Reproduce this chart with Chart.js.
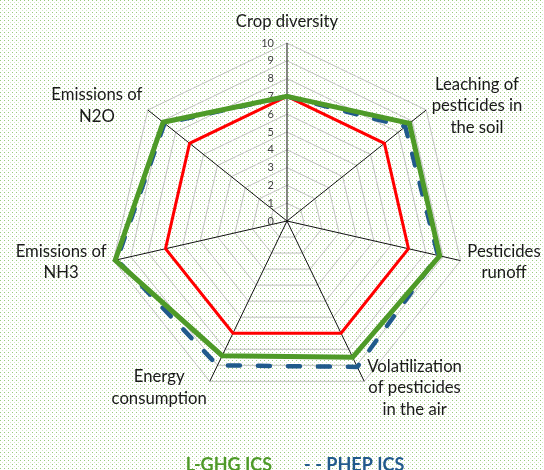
<!DOCTYPE html>
<html>
<head>
<meta charset="utf-8">
<title>ICS radar</title>
<script src="https://cdn.jsdelivr.net/npm/chart.js@4.4.0/dist/chart.umd.min.js"></script>
<style>
  html, body { margin: 0; padding: 0; overflow: hidden; }
  body {
    width: 544px;
    height: 470px;
    background-color: #ffffff;
    background-image: url("data:image/svg+xml,%3Csvg xmlns='http://www.w3.org/2000/svg' width='4' height='4'%3E%3Crect x='0' y='0' width='1' height='1' fill='%2399c97d'/%3E%3Crect x='2' y='2' width='1' height='1' fill='%23d3e9c4'/%3E%3C/svg%3E");
  }
  #wrap { width: 544px; height: 484px; position: relative; }
</style>
</head>
<body>
<div id="wrap"><canvas id="radarChart"></canvas></div>
<script>
// axes of the web, clockwise from the top
const axisLabels = [
    'Crop diversity',
    ['Leaching of', 'pesticides in', 'the soil'],
    ['Pesticides', 'runoff'],
    ['Volatilization', 'of pesticides', 'in the air'],
    ['Energy', 'consumption'],
    ['Emissions of', 'NH3'],
    ['Emissions of', 'N2O']
];

// scores per system (0-10)
const lghgValues = [7, 8.8, 8.8, 8.5, 8.4, 9.9, 8.9];
const phepValues = [7, 8.5, 8.7, 9.1, 9.0, 9.8, 8.8];
const baselineValues = [7, 7, 7, 7, 7, 7, 7];

const tickValues = [0, 1, 2, 3, 4, 5, 6, 7, 8, 9, 10];

const GREEN = '#4e9a28';
const BLUE = '#215a8c';
const RED = '#ff0000';

// numbers next to the vertical axis, drawn under the lines
const tickLabelPlugin = {
    id: 'tickLabels',
    beforeDatasetsDraw(chart) {
        const r = chart.scales.r;
        const ctx = chart.ctx;
        ctx.save();
        ctx.font = '11px Lato';
        ctx.fillStyle = '#404040';
        ctx.textAlign = 'right';
        ctx.textBaseline = 'middle';
        tickValues.forEach(v => {
            const d = r.getDistanceFromCenterForValue(v);
            ctx.fillText(String(v), r.xCenter - 13, r.yCenter - d);
        });
        ctx.restore();
    }
};

// axis titles: centred lines, block set beside the end of each spoke
const axisTitlePlugin = {
    id: 'axisTitles',
    beforeDatasetsDraw(chart) {
        const r = chart.scales.r;
        const ctx = chart.ctx;
        const lineH = 21.5;
        ctx.save();
        ctx.font = '16.7px Lato';
        ctx.fillStyle = '#1a1a1a';
        ctx.textAlign = 'center';
        ctx.textBaseline = 'middle';
        chart.data.labels.forEach((label, i) => {
            const lines = [].concat(label);
            const pos = r.getPointPosition(i, r.drawingArea + 7);
            const s = Math.sin(r.getIndexAngle(i));
            const w = Math.max(...lines.map(t => ctx.measureText(t).width));
            const h = lines.length * lineH;
            let cx = pos.x;
            let cy = pos.y;
            if (Math.abs(s) < 0.01) {
                cy = pos.y - h / 2 - 4;
            } else {
                cx = pos.x + Math.sign(s) * w / 2;
            }
            lines.forEach((t, k) => {
                ctx.fillText(t, cx, cy - h / 2 + lineH * (k + 0.5));
            });
        });
        ctx.restore();
    }
};

const ctx = document.getElementById('radarChart').getContext('2d');
new Chart(ctx, {
    type: 'radar',
    data: {
        labels: axisLabels,
        datasets: [
            {
                label: 'L-GHG ICS',
                data: lghgValues,
                borderColor: GREEN,
                borderWidth: 5,
                borderJoinStyle: 'miter',
                fill: false,
                pointRadius: 0
            },
            {
                label: 'PHEP ICS',
                data: phepValues,
                borderColor: BLUE,
                borderWidth: 4.5,
                borderDash: [12, 18],
                borderCapStyle: 'round',
                fill: false,
                pointRadius: 0
            },
            {
                label: 'Baseline',
                data: baselineValues,
                borderColor: RED,
                borderWidth: 3,
                borderJoinStyle: 'miter',
                fill: false,
                pointRadius: 0
            }
        ]
    },
    options: {
        responsive: true,
        maintainAspectRatio: false,
        animation: false,
        layout: {
            padding: { left: 109, right: 79, top: 43, bottom: 0 }
        },
        scales: {
            r: {
                min: 0,
                max: 10,
                ticks: { display: false, stepSize: 1 },
                grid: { color: '#c4c4c4', lineWidth: 1 },
                angleLines: { color: '#111111', lineWidth: 1 },
                pointLabels: { display: false },
                // keep the web at the top of its box, the legend sits lower
                afterFit(scale) {
                    scale.yCenter = scale.top + scale.drawingArea;
                }
            }
        },
        plugins: {
            tooltip: { enabled: false },
            legend: {
                position: 'bottom',
                labels: {
                    boxWidth: 7,
                    boxHeight: 0,
                    padding: 16,
                    font: { family: 'Lato', size: 18, weight: 'bold' },
                    generateLabels(chart) {
                        return [
                            { text: 'L-GHG ICS', fontColor: GREEN },
                            { text: '- - PHEP ICS', fontColor: BLUE }
                        ].map((item, i) => ({
                            text: item.text,
                            fontColor: item.fontColor,
                            fillStyle: 'rgba(0,0,0,0)',
                            strokeStyle: 'rgba(0,0,0,0)',
                            lineWidth: 0,
                            hidden: false,
                            datasetIndex: i
                        }));
                    }
                }
            }
        }
    },
    plugins: [tickLabelPlugin, axisTitlePlugin]
});
</script>
</body>
</html>
